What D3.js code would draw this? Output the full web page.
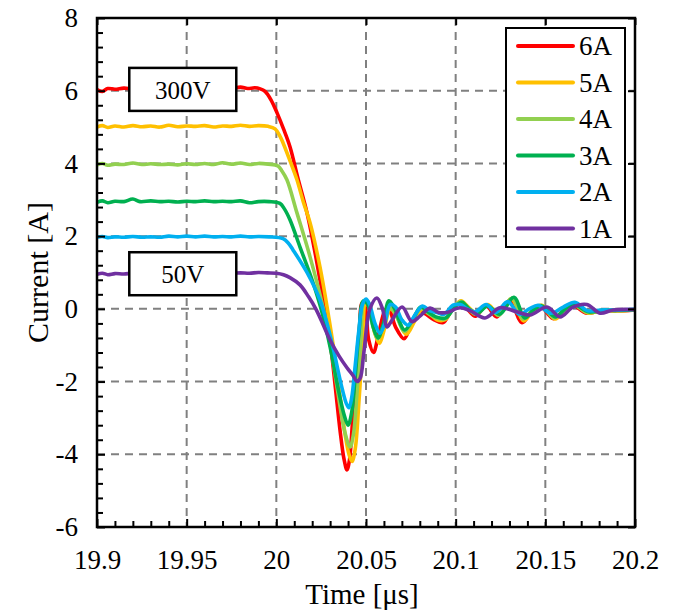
<!DOCTYPE html>
<html>
<head>
<meta charset="utf-8">
<script src="https://cdn.jsdelivr.net/npm/d3@7"></script>
<style>
  body { margin: 0; background: #fff; }
  svg text { font-family: "Liberation Serif", "Times New Roman", serif; }
</style>
</head>
<body>
<script>
// time [µs], current [A]
const series6A = [
  [19.900,6.03],[19.903,5.98],[19.906,6.06],[19.910,6.04],[19.915,6.07],[19.920,6.05],[19.925,6.08],[19.930,6.06],
  [19.935,6.05],[19.940,6.08],[19.945,6.06],[19.950,6.07],[19.955,6.05],[19.960,6.08],[19.965,6.05],[19.970,6.07],
  [19.975,6.06],[19.980,6.10],[19.984,6.06],[19.988,6.08],[19.991,6.05],[19.9937,5.98],[19.997,5.75],[20.0004,5.39],
  [20.004,4.95],[20.0076,4.46],[20.012,3.6],[20.0171,2.64],[20.021,1.7],[20.0243,0.8],[20.0275,-0.1],[20.0305,-1.1],
  [20.033,-2.2],[20.0355,-3.33],[20.0378,-4.15],[20.0394,-4.43],[20.0408,-4.15],[20.0425,-3.1],[20.0445,-1.9],
  [20.0462,-0.7],[20.0478,0.16],[20.0495,0.05],[20.0515,-0.85],[20.0542,-1.2],[20.0568,-0.75],[20.0605,-0.05],
  [20.0625,0.02],[20.0665,-0.5],[20.0712,-0.82],[20.075,-0.45],[20.0795,-0.05],[20.0835,-0.15],[20.088,-0.3],
  [20.093,-0.38],[20.098,0.0],[20.102,0.15],[20.106,0.02],[20.111,-0.2],[20.117,0.08],[20.123,-0.22],[20.130,0.22],
  [20.137,-0.38],[20.142,-0.1],[20.147,0.08],[20.1545,-0.27],[20.160,-0.05],[20.1645,0.12],[20.173,-0.12],
  [20.181,-0.05],[20.19,-0.06],[20.2,-0.03]
];
const series5A = [
  [19.900,5.0],[19.903,5.04],[19.906,4.99],[19.910,5.03],[19.915,5.0],[19.920,5.04],[19.925,5.01],[19.930,5.03],
  [19.935,5.0],[19.940,5.05],[19.945,5.01],[19.950,5.03],[19.955,5.02],[19.960,5.04],[19.965,5.0],[19.970,5.03],
  [19.975,5.02],[19.980,5.05],[19.985,5.02],[19.990,5.04],[19.9955,5.02],[19.9993,4.95],[20.002,4.75],[20.0037,4.57],
  [20.0078,4.05],[20.0115,3.55],[20.015,2.95],[20.0188,2.37],[20.0243,1.16],[20.0288,-0.1],[20.032,-1.1],
  [20.0355,-2.4],[20.0385,-3.5],[20.0405,-4.0],[20.0422,-4.2],[20.044,-3.85],[20.046,-2.6],[20.048,-1.1],
  [20.0500,0.22],[20.052,0.12],[20.0548,-0.65],[20.0575,-0.95],[20.060,-0.6],[20.0635,0.0],[20.0665,-0.15],
  [20.0725,-0.7],[20.077,-0.35],[20.0815,0.0],[20.085,-0.1],[20.0895,-0.3],[20.094,-0.3],[20.099,0.05],[20.103,0.22],
  [20.107,0.05],[20.112,-0.12],[20.118,0.12],[20.124,-0.15],[20.131,0.28],[20.138,-0.33],[20.143,-0.05],[20.148,0.1],
  [20.1555,-0.28],[20.161,-0.02],[20.1655,0.13],[20.174,-0.12],[20.182,-0.03],[20.19,-0.06],[20.2,-0.02]
];
const series4A = [
  [19.900,3.96],[19.903,4.0],[19.906,3.95],[19.910,3.98],[19.915,3.97],[19.920,4.01],[19.925,3.97],[19.930,3.99],
  [19.935,3.97],[19.940,3.98],[19.945,3.96],[19.950,3.99],[19.955,3.97],[19.960,4.0],[19.965,3.97],[19.970,4.02],
  [19.975,3.98],[19.980,4.01],[19.985,3.97],[19.990,4.0],[19.9955,3.98],[20.0009,3.93],[20.003,3.8],[20.0059,3.55],
  [20.0115,2.64],[20.0188,1.43],[20.026,0.05],[20.030,-0.95],[20.034,-2.2],[20.038,-3.35],[20.0411,-3.8],
  [20.043,-3.45],[20.045,-2.3],[20.047,-0.95],[20.049,0.2],[20.051,0.15],[20.054,-0.5],[20.0565,-0.82],
  [20.0595,-0.5],[20.063,0.02],[20.066,-0.1],[20.0715,-0.62],[20.0765,-0.28],[20.0805,0.02],[20.0845,-0.12],
  [20.089,-0.25],[20.094,-0.28],[20.099,0.05],[20.103,0.2],[20.107,0.0],[20.1115,-0.15],[20.1175,0.1],[20.124,-0.18],
  [20.1315,0.3],[20.1375,-0.28],[20.1425,-0.05],[20.1475,0.1],[20.155,-0.25],[20.1605,-0.02],[20.1655,0.12],
  [20.1735,-0.1],[20.182,-0.05],[20.19,-0.05],[20.2,-0.02]
];
const series3A = [
  [19.900,2.93],[19.903,2.97],[19.906,2.92],[19.910,2.96],[19.915,2.95],[19.920,3.02],[19.924,2.95],[19.930,2.97],
  [19.935,2.95],[19.940,2.96],[19.945,2.94],[19.950,2.96],[19.955,2.95],[19.960,2.97],[19.965,2.95],[19.970,2.96],
  [19.975,2.95],[19.980,2.97],[19.985,2.92],[19.990,2.95],[19.996,2.95],[20.002,2.9],[20.0045,2.75],[20.0076,2.45],
  [20.0132,1.7],[20.0199,0.8],[20.0255,-0.1],[20.030,-1.05],[20.0345,-2.2],[20.038,-2.95],[20.040,-3.2],
  [20.042,-2.85],[20.044,-1.85],[20.046,-0.7],[20.0485,0.22],[20.051,0.12],[20.054,-0.5],[20.0567,-0.8],
  [20.0595,-0.45],[20.0628,0.22],[20.066,0.0],[20.0715,-0.58],[20.0765,-0.25],[20.0805,0.05],[20.0845,-0.08],
  [20.089,-0.22],[20.0945,-0.25],[20.0995,0.05],[20.1035,0.18],[20.1075,0.0],[20.112,-0.12],[20.118,0.08],
  [20.1245,-0.15],[20.1325,0.32],[20.1385,-0.25],[20.1435,-0.02],[20.148,0.08],[20.1555,-0.22],[20.161,0.0],
  [20.166,0.12],[20.174,-0.08],[20.182,-0.04],[20.19,-0.04],[20.2,-0.02]
];
const series2A = [
  [19.900,1.97],[19.903,1.99],[19.906,1.96],[19.910,1.98],[19.915,1.97],[19.920,1.99],[19.925,1.97],[19.930,1.98],
  [19.935,1.97],[19.940,2.0],[19.945,1.98],[19.950,2.0],[19.955,1.98],[19.960,2.0],[19.965,1.98],[19.970,1.99],
  [19.975,1.98],[19.980,2.0],[19.985,1.98],[19.990,1.99],[19.996,1.98],[20.0037,1.93],[20.0065,1.82],[20.0093,1.62],
  [20.0171,1.0],[20.0243,0.25],[20.028,-0.35],[20.032,-1.15],[20.036,-2.05],[20.039,-2.6],[20.0405,-2.72],
  [20.042,-2.45],[20.044,-1.55],[20.046,-0.6],[20.048,0.12],[20.050,0.27],[20.052,0.12],[20.055,-0.4],
  [20.0578,-0.67],[20.0605,-0.4],[20.0635,0.12],[20.0665,0.05],[20.070,-0.3],[20.0735,-0.45],[20.0775,-0.15],
  [20.0815,0.08],[20.0855,-0.05],[20.0895,-0.1],[20.0935,-0.15],[20.0985,0.1],[20.1025,0.12],[20.1065,0.0],
  [20.111,-0.08],[20.117,0.12],[20.1225,-0.1],[20.129,0.2],[20.1355,-0.15],[20.141,0.0],[20.146,0.1],[20.153,-0.12],
  [20.160,0.05],[20.1665,0.18],[20.1735,-0.05],[20.181,-0.03],[20.19,-0.03],[20.2,-0.01]
];
const series1A = [
  [19.900,0.95],[19.903,0.98],[19.906,0.94],[19.910,0.97],[19.915,0.96],[19.920,0.98],[19.925,0.96],[19.930,0.97],
  [19.935,0.95],[19.940,0.97],[19.945,0.96],[19.950,0.97],[19.955,0.96],[19.960,0.98],[19.965,0.97],[19.970,1.0],
  [19.975,0.98],[19.980,0.99],[19.985,0.98],[19.990,1.0],[19.995,0.99],[20.000,0.98],[20.004,0.94],[20.0076,0.86],
  [20.0132,0.66],[20.018,0.33],[20.022,0.0],[20.026,-0.42],[20.0299,-0.85],[20.035,-1.3],[20.0394,-1.62],
  [20.043,-1.85],[20.045,-2.0],[20.0468,-1.9],[20.0488,-1.2],[20.0522,0.0],[20.0561,0.3],[20.0592,0.0],
  [20.0617,-0.5],[20.064,-0.35],[20.0701,0.05],[20.0756,-0.35],[20.0801,-0.2],[20.0857,0.02],[20.0905,-0.1],
  [20.095,-0.1],[20.1024,0.03],[20.108,-0.05],[20.1163,-0.25],[20.1247,0.03],[20.134,-0.08],[20.1414,-0.17],
  [20.1509,0.05],[20.1582,-0.22],[20.1654,0.05],[20.1732,0.12],[20.1805,-0.12],[20.1877,-0.03],[20.2,-0.02]
];

const seriesNames = ["6A", "5A", "4A", "3A", "2A", "1A"];
const seriesData = [series6A, series5A, series4A, series3A, series2A, series1A];
const seriesColors = ["#ff0000", "#ffc000", "#92d050", "#00b050", "#00b0f0", "#7030a0"];

const xTicks = [19.9, 19.95, 20, 20.05, 20.1, 20.15, 20.2];
const xTickLabels = ["19.9", "19.95", "20", "20.05", "20.1", "20.15", "20.2"];
const yTicks = [-6, -4, -2, 0, 2, 4, 6, 8];

const annotations = [
  { text: "300V", value: 6.05 },
  { text: "50V", value: 0.98 },
];

const width = 675;
const height = 613;
const margin = { left: 97, right: 40, top: 18, bottom: 86 };

const svg = d3.select("body").append("svg")
  .attr("width", width)
  .attr("height", height);

const x = d3.scaleLinear().domain([19.9, 20.2]).range([margin.left, width - margin.right]);
const y = d3.scaleLinear().domain([-6, 8]).range([height - margin.bottom, margin.top]);

const [x0, x1] = x.range();
const [y0, y1] = y.range();

// grid
svg.append("g")
  .selectAll("line")
  .data(xTicks.slice(1, -1))
  .join("line")
  .attr("x1", (d) => x(d)).attr("x2", (d) => x(d))
  .attr("y1", y1).attr("y2", y0)
  .attr("stroke", "#808080").attr("stroke-width", 2).attr("stroke-dasharray", "8,6");
svg.append("g")
  .selectAll("line")
  .data(yTicks.slice(1, -1))
  .join("line")
  .attr("x1", x0).attr("x2", x1)
  .attr("y1", (d) => y(d)).attr("y2", (d) => y(d))
  .attr("stroke", "#808080").attr("stroke-width", 2).attr("stroke-dasharray", "8,6");

// traces
svg.append("clipPath").attr("id", "plot-clip")
  .append("rect").attr("x", x0).attr("y", y1).attr("width", x1 - x0).attr("height", y0 - y1);

const line = d3.line()
  .x((d) => x(d[0]))
  .y((d) => y(d[1]))
  .curve(d3.curveCatmullRom.alpha(0.5));

svg.append("g")
  .attr("clip-path", "url(#plot-clip)")
  .selectAll("path")
  .data(seriesData)
  .join("path")
  .attr("d", line)
  .attr("fill", "none")
  .attr("stroke", (d, i) => seriesColors[i])
  .attr("stroke-width", 3.6)
  .attr("stroke-linejoin", "round");

// axes
const xMinor = d3.range(19.91, 20.2, 0.01).filter((d) => Math.abs(d * 20 - Math.round(d * 20)) > 1e-6);
const yMinor = d3.range(-5.6, 8, 0.4).filter((d) => Math.abs(d / 2 - Math.round(d / 2)) > 1e-6);

const styleAxis = (g) => {
  g.select(".domain").remove();
  g.selectAll(".tick line").attr("stroke", "#000").attr("stroke-width", 2);
  g.selectAll(".tick text").attr("font-size", 27).attr("fill", "#000");
};

svg.append("g")
  .attr("transform", `translate(0,${y0})`)
  .call(d3.axisBottom(x).tickValues(xMinor).tickSize(-6).tickFormat(""))
  .call(styleAxis);
svg.append("g")
  .attr("transform", `translate(0,${y0})`)
  .call(d3.axisBottom(x).tickValues(xTicks).tickSize(-8).tickPadding(23)
    .tickFormat((d, i) => xTickLabels[i]))
  .call(styleAxis);
svg.append("g")
  .attr("transform", `translate(${x0},0)`)
  .call(d3.axisLeft(y).tickValues(yMinor).tickSize(-6).tickFormat(""))
  .call(styleAxis);
svg.append("g")
  .attr("transform", `translate(${x0},0)`)
  .call(d3.axisLeft(y).tickValues(yTicks).tickSize(-8).tickPadding(19)
    .tickFormat((d) => String(d)))
  .call(styleAxis);
svg.append("g")
  .attr("transform", `translate(0,${y1})`)
  .call(d3.axisTop(x).tickValues(xTicks).tickSize(-7).tickFormat(""))
  .call(styleAxis);
svg.append("g")
  .attr("transform", `translate(${x1},0)`)
  .call(d3.axisRight(y).tickValues(yTicks).tickSize(-7).tickFormat(""))
  .call(styleAxis);

svg.append("rect")
  .attr("x", x0).attr("y", y1)
  .attr("width", x1 - x0).attr("height", y0 - y1)
  .attr("fill", "none").attr("stroke", "#000").attr("stroke-width", 2.5);

// axis titles
svg.append("text")
  .attr("x", 362).attr("y", 604)
  .attr("text-anchor", "middle").attr("font-size", 29)
  .text("Time [μs]");
svg.append("text")
  .attr("transform", `translate(48,${(y0 + y1) / 2}) rotate(-90)`)
  .attr("text-anchor", "middle").attr("font-size", 30)
  .text("Current [A]");

// voltage labels
const ann = svg.append("g").selectAll("g").data(annotations).join("g")
  .attr("transform", (d) => `translate(${x(19.918)},${y(d.value)})`);
ann.append("rect")
  .attr("x", 0).attr("y", -21).attr("width", 107).attr("height", 43)
  .attr("fill", "#fff").attr("stroke", "#000").attr("stroke-width", 2.5);
ann.append("text")
  .attr("x", 53.5).attr("y", 1).attr("dy", "0.35em")
  .attr("text-anchor", "middle").attr("font-size", 25)
  .text((d) => d.text);

// legend
const legend = svg.append("g").attr("transform", "translate(506,28)");
legend.append("rect")
  .attr("width", 119).attr("height", 219)
  .attr("fill", "#fff").attr("stroke", "#000").attr("stroke-width", 2);
const item = legend.selectAll("g.item").data(seriesNames).join("g")
  .attr("class", "item")
  .attr("transform", (d, i) => `translate(0,${18 + i * 36.5})`);
item.append("line")
  .attr("x1", 12).attr("x2", 67)
  .attr("stroke", (d, i) => seriesColors[i])
  .attr("stroke-width", 4).attr("stroke-linecap", "round");
item.append("text")
  .attr("x", 73).attr("dy", "0.35em").attr("font-size", 27)
  .text((d) => d);
</script>
</body>
</html>
